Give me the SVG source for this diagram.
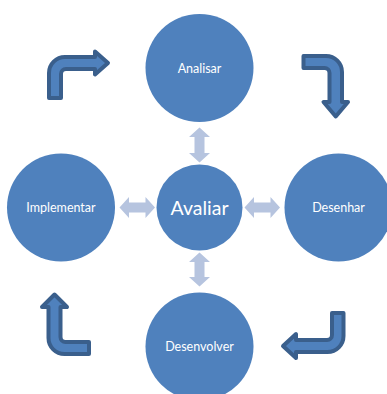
<svg xmlns="http://www.w3.org/2000/svg" width="387" height="394" viewBox="0 0 387 394">
  <style>
    .node { fill: #4f81bd; }
    .label { fill: #ffffff; font-family: Lato, "Liberation Sans", sans-serif; font-size: 12.5px; text-anchor: middle; dominant-baseline: central; }
    .big { font-size: 19.5px; }
    .link { fill: #b6c4df; }
    .cycle { fill: #4f81bd; stroke: #3a5f8c; stroke-width: 4; stroke-linejoin: round; }
  </style>
  <rect width="387" height="394" fill="#ffffff"/>

  <g id="connectors">
    <!-- two-way links to the centre -->
    <path class="link" d="M199.5,127.5 L210,137 L204.5,137 L204.5,153 L210,153 L199.5,162.5 L189,153 L194.5,153 L194.5,137 L189,137 Z"/>
    <path class="link" d="M199.5,252.5 L210,262 L204.5,262 L204.5,277 L210,277 L199.5,286.5 L189,277 L194.5,277 L194.5,262 L189,262 Z"/>
    <path class="link" d="M119.5,207.5 L129,197 L129,202.5 L145.5,202.5 L145.5,197 L155,207.5 L145.5,218 L145.5,212.5 L129,212.5 L129,218 Z"/>
    <path class="link" d="M244.5,207.5 L254,197 L254,202.5 L270.5,202.5 L270.5,197 L280,207.5 L270.5,218 L270.5,212.5 L254,212.5 L254,218 Z"/>
    <!-- bent arrows of the outer cycle -->
    <path class="cycle" d="M49,98 L49,73 A16,16 0 0 1 65,57 L95,57 L95,51.5 L108,63 L95,74.5 L95,69 L66,69 A5,5 0 0 0 61,74 L61,98 Z"/>
    <path class="cycle" d="M303.5,56 L326,56 A16,16 0 0 1 342,72 L342,102 L348,102 L335.75,116.5 L323.5,102 L329.5,102 L329.5,73 A5,5 0 0 0 324.5,68 L303.5,68 Z"/>
    <path class="cycle" d="M343.5,313 L343.5,336 A16,16 0 0 1 327.5,352 L296,352 L296,358 L283,346 L296,334 L296,340 L327,340 A5,5 0 0 0 332,335 L332,313 Z"/>
    <path class="cycle" d="M89,354 L64.5,354 A16,16 0 0 1 48.5,338 L48.5,307 L42,307 L54.5,294.5 L67,307 L60.5,307 L60.5,337 A5,5 0 0 0 65.5,342 L89,342 Z"/>
  </g>

  <g id="analisar">
    <circle class="node" cx="199.5" cy="68" r="54"/>
    <text class="label" x="199.5" y="68">Analisar</text>
  </g>
  <g id="implementar">
    <circle class="node" cx="61" cy="207.5" r="54"/>
    <text class="label" x="61" y="207.5">Implementar</text>
  </g>
  <g id="avaliar">
    <circle class="node" cx="199.5" cy="207.5" r="43"/>
    <text class="label big" x="199.5" y="207.5">Avaliar</text>
  </g>
  <g id="desenhar">
    <circle class="node" cx="338.5" cy="207.5" r="54"/>
    <text class="label" x="338.5" y="207.5">Desenhar</text>
  </g>
  <g id="desenvolver">
    <circle class="node" cx="199.5" cy="346.5" r="54"/>
    <text class="label" x="199.5" y="346.5">Desenvolver</text>
  </g>
</svg>
